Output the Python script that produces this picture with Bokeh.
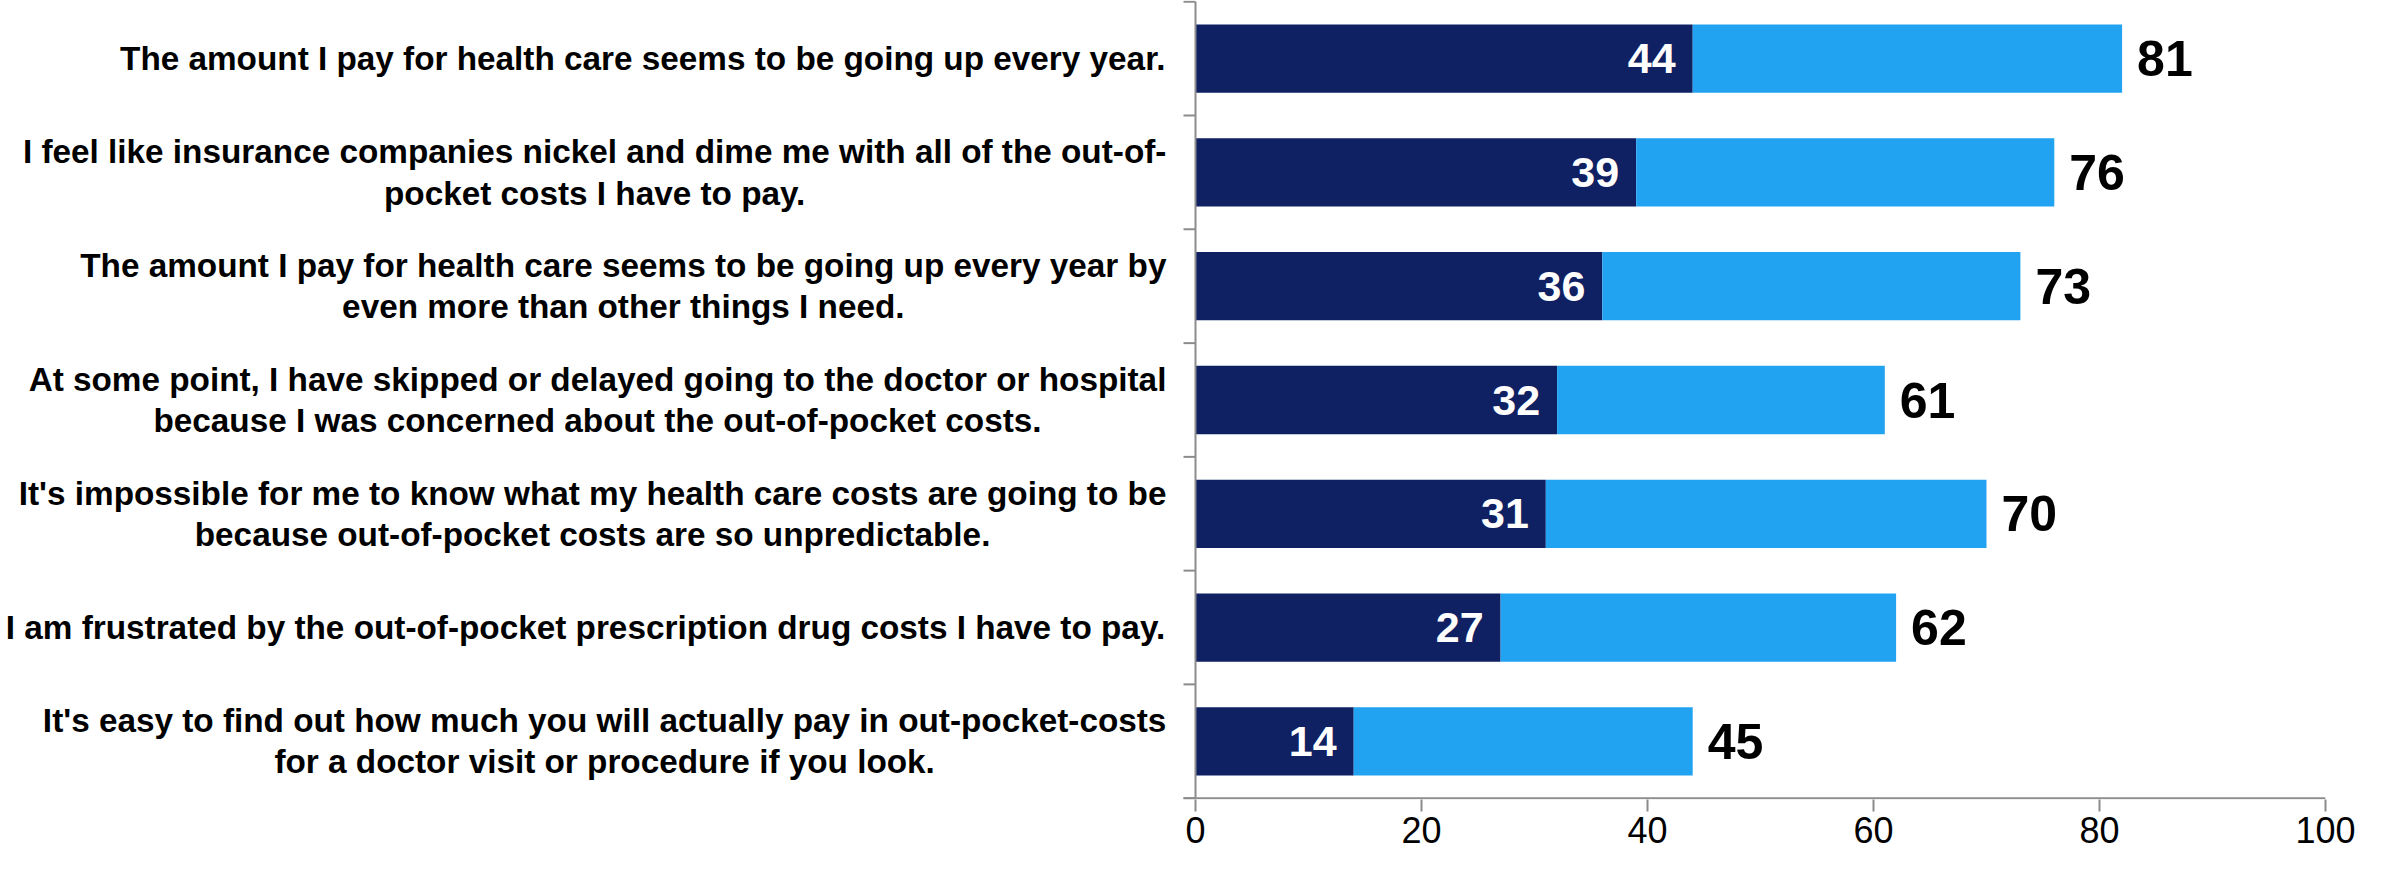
from bokeh.plotting import figure
from bokeh.models import Range1d, FixedTicker
from bokeh.core.properties import value
from bokeh.embed import file_html
from bokeh.resources import INLINE

# ---------------- data ----------------
statements = [
    "The amount I pay for health care seems to be going up every year.",
    "I feel like insurance companies nickel and dime me with all of the out-of-\npocket costs I have to pay.",
    "The amount I pay for health care seems to be going up every year by\neven more than other things I need.",
    "At some point, I have skipped or delayed going to the doctor or hospital\nbecause I was concerned about the out-of-pocket costs.",
    "It's impossible for me to know what my health care costs are going to be\nbecause out-of-pocket costs are so unpredictable.",
    "I am frustrated by the out-of-pocket prescription drug costs I have to pay.",
    "It's easy to find out how much you will actually pay in out-pocket-costs\nfor a doctor visit or procedure if you look.",
]
strongly = [44, 39, 36, 32, 31, 27, 14]
somewhat = [38, 37, 37, 29, 39, 35, 30]
net_labels = ["81", "76", "73", "61", "70", "62", "45"]
x_ticks = [0, 20, 40, 60, 80, 100]

DARK = "#0F2063"
LIGHT = "#21A3F2"
AXIS = "#8C8C8C"
FONT = "Liberation Sans"

# ---------------- layout ----------------
W, H = 2379, 861
AX_X = 1195          # pixel (figure coords) of value 0
BR = 54
frame_w = W - BR     # frame starts at figure x = 0
ppu = (frame_w - AX_X) / 100.0   # pixels per unit
x_start = -AX_X / ppu
TICK = 12.0
eps = 0.012

n = len(statements)
p = figure(width=W, height=H, output_backend="svg", toolbar_location=None,
           x_range=Range1d(x_start, 100), y_range=Range1d(n + eps, -eps),
           y_axis_location=None,
           min_border_left=0, min_border_right=BR, min_border_top=0,
           min_border_bottom=62)
p.outline_line_color = None
p.xgrid.grid_line_color = None
p.ygrid.grid_line_color = None
p.background_fill_color = "white"
p.border_fill_color = "white"

centers = [i + 0.5 for i in range(n)]
totals = [a + b for a, b in zip(strongly, somewhat)]

# bars
p.hbar(y=centers, left=0, right=strongly, height=0.6,
       fill_color=DARK, line_color=None)
p.hbar(y=centers, left=strongly, right=totals, height=0.6,
       fill_color=LIGHT, line_color=None)

# value labels
p.text(x=strongly, y=centers, text=[str(v) for v in strongly],
       text_align="right", text_baseline="middle", x_offset=-17,
       text_color="white", text_font=value(FONT), text_font_style="bold",
       text_font_size="43px")
p.text(x=totals, y=centers, text=net_labels,
       text_align="left", text_baseline="middle", x_offset=15,
       text_color="black", text_font=value(FONT), text_font_style="bold",
       text_font_size="50px")

# drawn value axis (left) with ticks on category boundaries
bounds = list(range(n + 1))
p.segment(x0=[0], y0=[0], x1=[0], y1=[n], line_color=AXIS, line_width=2)
p.segment(x0=[-TICK / ppu] * len(bounds), y0=bounds, x1=[0] * len(bounds), y1=bounds,
          line_color=AXIS, line_width=2)
# bottom axis line
p.segment(x0=[-TICK / ppu], y0=[n], x1=[100], y1=[n], line_color=AXIS, line_width=2)

# x axis ticks / labels
xa = p.xaxis[0]
xa.ticker = FixedTicker(ticks=x_ticks)
xa.axis_line_color = None
xa.major_tick_line_color = AXIS
xa.major_tick_line_width = 2
xa.major_tick_out = 12
xa.major_tick_in = 0
xa.minor_tick_line_color = None
xa.major_label_text_font = FONT
xa.major_label_text_font_size = "36px"
xa.major_label_text_color = "black"
xa.major_label_standoff = 5

# category labels (Liberation Sans Bold advance widths, per 1000 em)
WID = {' ': 278, "'": 238, ',': 278, '-': 333, '.': 278,
       'A': 722, 'I': 278, 'T': 611,
       'a': 556, 'b': 611, 'c': 556, 'd': 611, 'e': 556, 'f': 333, 'g': 611,
       'h': 611, 'i': 278, 'j': 278, 'k': 556, 'l': 278, 'm': 889, 'n': 611,
       'o': 611, 'p': 611, 'q': 611, 'r': 389, 's': 556, 't': 333, 'u': 611,
       'v': 556, 'w': 778, 'x': 556, 'y': 556, 'z': 500}
LBL_SIZE = 33.3
LINE_H = 37.0
RIGHT_EDGE = 1166.0   # figure px of the labels' right edge


def text_w(s):
    return sum(WID.get(c, 600) for c in s) / 1000.0 * LBL_SIZE


lbl_x = []
for st in statements:
    block_w = max(text_w(l) for l in st.split("\n"))
    lbl_x.append((RIGHT_EDGE - block_w / 2.0 - AX_X) / ppu)

p.text(x=lbl_x, y=centers, text=statements,
       text_align="center", text_baseline="middle",
       text_line_height=LINE_H / LBL_SIZE,
       text_color="black", text_font=value(FONT), text_font_style="bold",
       text_font_size=f"{LBL_SIZE}px")

open("out.html", "w").write(file_html(p, INLINE))
